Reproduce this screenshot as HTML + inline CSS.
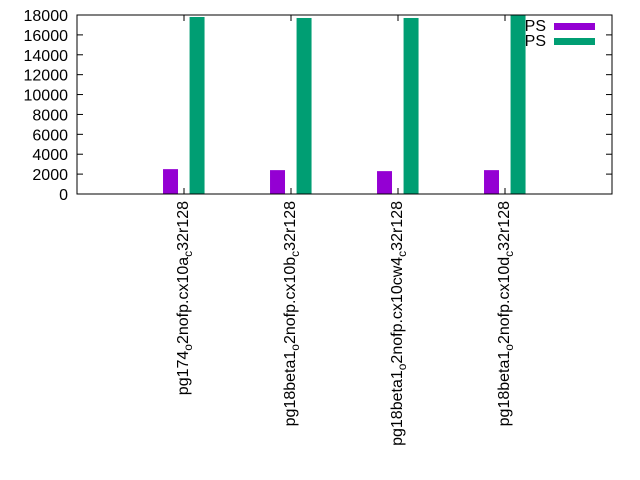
<!DOCTYPE html>
<html><head><meta charset="utf-8"><style>
html,body{margin:0;padding:0;background:#fff;}
svg{display:block;font-family:"Liberation Sans",sans-serif;}
</style></head><body>
<svg id="chart" width="640" height="480" viewBox="0 0 640 480">
<g id="grid"></g>
<g id="bars"></g>
<rect x="77" y="15" width="535" height="179" fill="none" stroke="#000" stroke-width="1"/>
<g id="axes"></g>
<g>
<text x="546" y="31" font-size="16" text-anchor="end">PS</text>
<rect x="554" y="23" width="41" height="7" fill="#9400d3"/>
<text x="546" y="46" font-size="16" text-anchor="end">PS</text>
<rect x="554" y="38" width="41" height="7" fill="#009e73"/>
</g>
</svg>
<script>
const categories = [
  ["pg174","o","2nofp.cx10a","c","32r128"],
  ["pg18beta1","o","2nofp.cx10b","c","32r128"],
  ["pg18beta1","o","2nofp.cx10cw4","c","32r128"],
  ["pg18beta1","o","2nofp.cx10d","c","32r128"]
];
const series1 = [2500, 2400, 2300, 2400];
const series2 = [17800, 17700, 17700, 18200];
const yTicks = [0,2000,4000,6000,8000,10000,12000,14000,16000,18000];

const NS = "http://www.w3.org/2000/svg";
const L=77, R=612, T=15, B=194, yMax=18000;
const xs = i => L + (i + 1) * (R - L) / 5;
const ys = v => B - Math.min(v, yMax) / yMax * (B - T);
const svg = document.getElementById('chart');
const axes = document.getElementById('axes');
const bars = document.getElementById('bars');
function mk(tag, attrs, parent){const e=document.createElementNS(NS,tag);for(const k in attrs)e.setAttribute(k,attrs[k]);parent.appendChild(e);return e;}

yTicks.forEach(v=>{
  const y=ys(v);
  const t=mk('line',{x1:L,x2:L+6,y1:y,y2:y,stroke:'#000'},axes);
  
  
  const t2=mk('line',{x1:R-6,x2:R,y1:y,y2:y,stroke:'#000'},axes);
  
  
  const lb=mk('text',{x:L-9,y:y+6,'font-size':16,'text-anchor':'end'},axes);
  lb.textContent=v;
  
  
});

const bw = (R-L)/5*0.14;
categories.forEach((c,i)=>{
  const x=xs(i);
  const tk=mk('line',{x1:x,x2:x,y1:B,y2:B-6,stroke:'#000'},axes);
  
  
  const tk2=mk('line',{x1:x,x2:x,y1:T,y2:T+6,stroke:'#000'},axes);
  
  
  const cx1 = xs(i - 0.126), cx2 = xs(i + 0.122);
  const b1=mk('rect',{x:cx1-bw/2,y:ys(series1[i]),width:bw,height:B-ys(series1[i]),fill:'#9400d3'},bars);
  
  
  const b2=mk('rect',{x:cx2-bw/2,y:ys(series2[i]),width:bw,height:B-ys(series2[i]),fill:'#009e73'},bars);
  
  
  const tx=mk('text',{transform:`translate(${x+4},201) rotate(-90)`,'font-size':16,'text-anchor':'end'},axes);
  
  
  c.forEach((part,j)=>{
    const s=mk('tspan',{},tx);
    if(j%2===1){s.setAttribute('font-size','12');s.setAttribute('dy','4');}
    else if(j>0){s.setAttribute('dy','-4');}
    s.textContent=part;
  });
});
</script>
</body></html>
